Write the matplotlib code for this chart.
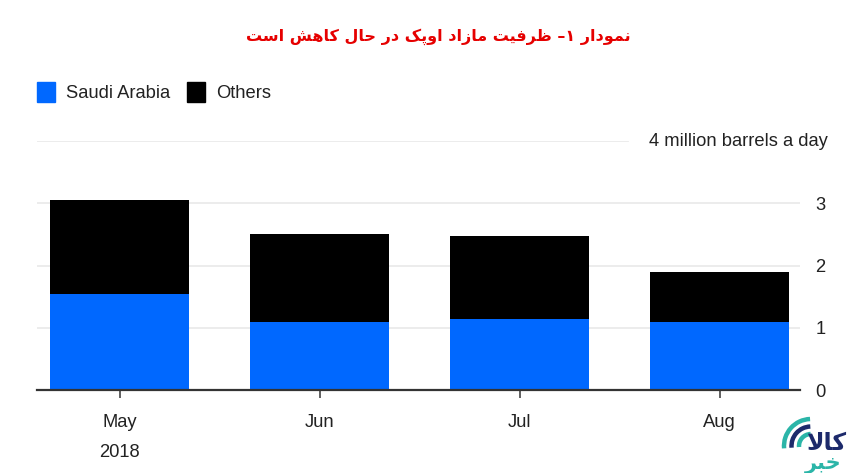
import matplotlib
matplotlib.use('Agg')
import matplotlib.pyplot as plt
from matplotlib.patches import Arc

# data (million barrels a day)
months = ['May', 'Jun', 'Jul', 'Aug']
saudi = [1.54, 1.09, 1.14, 1.10]
others = [1.51, 1.42, 1.34, 0.80]
yticks = [0, 1, 2, 3]
title_words = ['نمودار', '۱–', 'ظرفیت', 'مازاد', 'اوپک', 'در', 'حال', 'کاهش', 'است']

# arabic presentation forms: isolated, final, initial, medial
FORMS = {
    'ا': ('\uFE8D', '\uFE8E', None, None),
    'ب': ('\uFE8F', '\uFE90', '\uFE91', '\uFE92'),
    'پ': ('\uFB56', '\uFB57', '\uFB58', '\uFB59'),
    'ت': ('\uFE95', '\uFE96', '\uFE97', '\uFE98'),
    'ح': ('\uFEA1', '\uFEA2', '\uFEA3', '\uFEA4'),
    'خ': ('\uFEA5', '\uFEA6', '\uFEA7', '\uFEA8'),
    'د': ('\uFEA9', '\uFEAA', None, None),
    'ر': ('\uFEAD', '\uFEAE', None, None),
    'ز': ('\uFEAF', '\uFEB0', None, None),
    'س': ('\uFEB1', '\uFEB2', '\uFEB3', '\uFEB4'),
    'ش': ('\uFEB5', '\uFEB6', '\uFEB7', '\uFEB8'),
    'ظ': ('\uFEC5', '\uFEC6', '\uFEC7', '\uFEC8'),
    'ف': ('\uFED1', '\uFED2', '\uFED3', '\uFED4'),
    'ک': ('\uFB8E', '\uFB8F', '\uFB90', '\uFB91'),
    'ل': ('\uFEDD', '\uFEDE', '\uFEDF', '\uFEE0'),
    'م': ('\uFEE1', '\uFEE2', '\uFEE3', '\uFEE4'),
    'ن': ('\uFEE5', '\uFEE6', '\uFEE7', '\uFEE8'),
    'ه': ('\uFEE9', '\uFEEA', '\uFEEB', '\uFEEC'),
    'و': ('\uFEED', '\uFEEE', None, None),
    'ی': ('\uFBFC', '\uFBFD', '\uFBFE', '\uFBFF'),
}


def shape(word):
    out = []
    i = 0
    n = len(word)
    while i < n:
        c = word[i]
        prev = word[i - 1] if i > 0 else None
        join_prev = prev in FORMS and FORMS[prev][2] is not None
        if c == 'ل' and i + 1 < n and word[i + 1] == 'ا':
            out.append('\uFEFC' if join_prev else '\uFEFB')
            i += 2
            continue
        if c not in FORMS:
            out.append(c)
            i += 1
            continue
        nxt = word[i + 1] if i + 1 < n else None
        iso, fin, ini, med = FORMS[c]
        join_next = nxt in FORMS and ini is not None
        if join_prev and join_next:
            out.append(med)
        elif join_prev:
            out.append(fin)
        elif join_next:
            out.append(ini)
        else:
            out.append(iso)
        i += 1
    return ''.join(out)


def rtl(words):
    return ' '.join(shape(w)[::-1] for w in reversed(words))


plt.rcParams['font.family'] = ['Liberation Sans', 'DejaVu Sans']
txt = '#222222'
fs = 13.2

fig = plt.figure(figsize=(8.56, 4.73), dpi=100)
ax = fig.add_axes([37 / 856, 1 - 390 / 473, 763 / 856, 249 / 473])

x = list(range(len(months)))
ax.bar(x, saudi, width=0.695, color='#0068ff', zorder=3)
ax.bar(x, others, width=0.695, bottom=saudi, color='#000000', zorder=3)

ax.set_xlim(-0.4125, 3.4025)
ax.set_ylim(0, 4)
for v in yticks[1:]:
    ax.axhline(v, color='#ebebeb', lw=1.3, zorder=1)
ax.axhline(4, xmin=0, xmax=0.775, color='#ebebeb', lw=1.3, zorder=1)

for s in ['top', 'left', 'right']:
    ax.spines[s].set_visible(False)
ax.spines['bottom'].set_color('#333333')
ax.spines['bottom'].set_linewidth(1.6)
ax.spines['bottom'].set_zorder(4)

ax.set_xticks(x)
ax.set_xticklabels(months, fontsize=fs, color=txt)
ax.tick_params(axis='x', length=6, width=1.2, color='#444444', pad=11)

ax.yaxis.tick_right()
ax.set_yticks(yticks)
ax.set_yticklabels([str(v) for v in yticks], fontsize=fs, color=txt)
ax.tick_params(axis='y', length=0, pad=11)

ax.text(1.037, 4, '4 million barrels a day', transform=ax.get_yaxis_transform(),
        ha='right', va='center', fontsize=fs, color=txt)
ax.text(0, -1.01, '2018', ha='center', va='center', fontsize=fs, color=txt)

# legend
fig.patches.append(plt.Rectangle((37 / 856, 1 - 102 / 473), 18 / 856, 20 / 473,
                                 transform=fig.transFigure, color='#0068ff'))
fig.text(66 / 856, 1 - 93 / 473, 'Saudi Arabia', ha='left', va='center', fontsize=fs, color=txt)
fig.patches.append(plt.Rectangle((187 / 856, 1 - 102 / 473), 18 / 856, 20 / 473,
                                 transform=fig.transFigure, color='#000000'))
fig.text(216 / 856, 1 - 93 / 473, 'Others', ha='left', va='center', fontsize=fs, color=txt)

# title
fig.text(438 / 856, 1 - 37 / 473, rtl(title_words), ha='center', va='center',
         fontsize=11.5, fontweight='bold', color='#e60000', family=['DejaVu Sans'])

# logo
lax = fig.add_axes([770 / 856, 0, 86 / 856, 73 / 473])
lax.set_xlim(0, 86)
lax.set_ylim(0, 73)
lax.axis('off')
for r, col in [(54, '#2bb5a8'), (39, '#1d2a6b'), (24, '#2bb5a8')]:
    lax.add_patch(Arc((41, 27), r, r, theta1=92, theta2=185, color=col, lw=3.2))
lax.text(56, 30, shape('کالا')[::-1], ha='center', va='center', fontsize=17,
         fontweight='bold', color='#1d2a6b', family=['DejaVu Sans'])
lax.text(53, 9, shape('خبر')[::-1], ha='center', va='center', fontsize=15,
         fontweight='bold', color='#2bb5a8', family=['DejaVu Sans'])

fig.savefig('out.png', dpi=100)
